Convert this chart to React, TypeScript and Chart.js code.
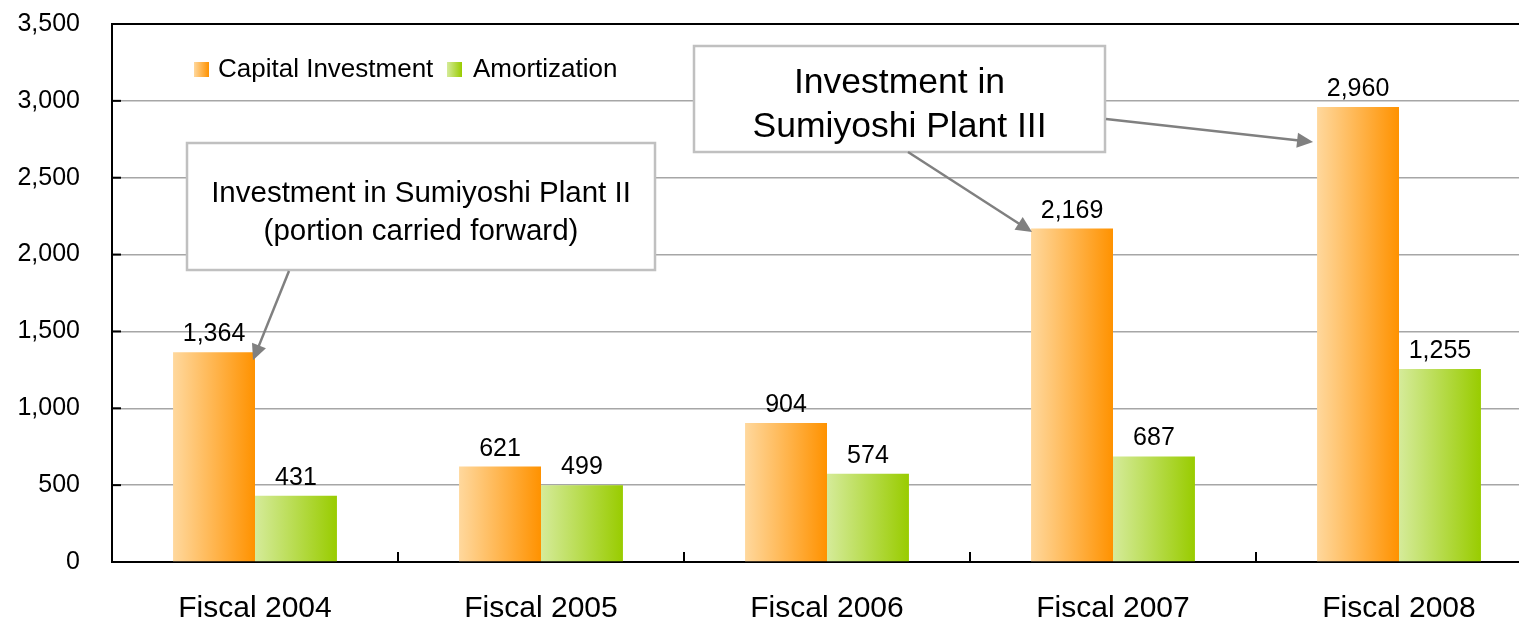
import React, { useEffect, useRef } from 'react';
import { Chart, registerables } from 'chart.js';

Chart.register(...registerables);

// ---- data ----
const categories = ['Fiscal 2004', 'Fiscal 2005', 'Fiscal 2006', 'Fiscal 2007', 'Fiscal 2008'];
const capitalInvestment = [1364, 621, 904, 2169, 2960];
const amortization = [431, 499, 574, 687, 1255];
const seriesNames = ['Capital Investment', 'Amortization'];
const yMin = 0;
const yMax = 3500;
const yStep = 500;
const noteLeft = ['Investment in Sumiyoshi Plant II', '(portion carried forward)'];
const noteRight = ['Investment in', 'Sumiyoshi Plant III'];

// ---- styles ----
const FONT = '"Liberation Sans", Arial, sans-serif';
const ORANGE = ['#FFD89D', '#FF9200'];
const GREEN = ['#D5EB9A', '#99CC00'];
const GRADS = [ORANGE, GREEN];

const fmt = (v: number) => v.toLocaleString('en-US');

const gradientPlugin = {
  id: 'barGradients',
  beforeDatasetsDraw(chart: any) {
    const ctx = chart.ctx;
    chart.data.datasets.forEach((_: any, di: number) => {
      const meta = chart.getDatasetMeta(di);
      meta.data.forEach((el: any) => {
        const { x, width } = el.getProps(['x', 'width'], true);
        const g = ctx.createLinearGradient(x - width / 2, 0, x + width / 2, 0);
        g.addColorStop(0, GRADS[di][0]);
        g.addColorStop(1, GRADS[di][1]);
        el.options.backgroundColor = g;
      });
    });
  },
};

function arrow(ctx: CanvasRenderingContext2D, x1: number, y1: number, x2: number, y2: number) {
  const dx = x2 - x1;
  const dy = y2 - y1;
  const len = Math.hypot(dx, dy);
  const ux = dx / len;
  const uy = dy / len;
  const hl = 16;
  const hw = 7.5;
  const bx = x2 - ux * hl;
  const by = y2 - uy * hl;
  ctx.save();
  ctx.strokeStyle = '#808080';
  ctx.fillStyle = '#808080';
  ctx.lineWidth = 2.5;
  ctx.beginPath();
  ctx.moveTo(x1, y1);
  ctx.lineTo(bx + ux * 2, by + uy * 2);
  ctx.stroke();
  ctx.beginPath();
  ctx.moveTo(x2, y2);
  ctx.lineTo(bx - uy * hw, by + ux * hw);
  ctx.lineTo(bx + uy * hw, by - ux * hw);
  ctx.closePath();
  ctx.fill();
  ctx.restore();
}

function noteBox(
  ctx: CanvasRenderingContext2D,
  x: number,
  y: number,
  w: number,
  h: number,
  lines: string[],
  size: number,
  baselines: number[]
) {
  ctx.save();
  ctx.fillStyle = '#ffffff';
  ctx.fillRect(x, y, w, h);
  ctx.strokeStyle = '#c0c0c0';
  ctx.lineWidth = 2.5;
  ctx.strokeRect(x, y, w, h);
  ctx.fillStyle = '#000';
  ctx.font = `${size}px ${FONT}`;
  ctx.textAlign = 'center';
  ctx.textBaseline = 'alphabetic';
  lines.forEach((t, i) => ctx.fillText(t, x + w / 2, baselines[i]));
  ctx.restore();
}

const overlayPlugin = {
  id: 'overlay',
  afterDatasetsDraw(chart: any) {
    const ctx: CanvasRenderingContext2D = chart.ctx;
    const { left, right, top, bottom } = chart.chartArea;
    const ys = chart.scales.y;

    ctx.save();
    // top border
    ctx.strokeStyle = '#000';
    ctx.lineWidth = 2;
    ctx.beginPath();
    ctx.moveTo(left - 1, top);
    ctx.lineTo(right, top);
    ctx.stroke();
    // inward y ticks
    for (let v = yMin; v <= yMax; v += yStep) {
      const py = ys.getPixelForValue(v);
      ctx.beginPath();
      ctx.moveTo(left, py);
      ctx.lineTo(left + 9, py);
      ctx.stroke();
    }
    // inward x ticks at category boundaries
    const cw = (right - left) / categories.length;
    for (let i = 1; i < categories.length; i++) {
      const px = left + i * cw;
      ctx.beginPath();
      ctx.moveTo(px, bottom);
      ctx.lineTo(px, bottom - 10);
      ctx.stroke();
    }

    // data labels
    ctx.fillStyle = '#000';
    ctx.font = `25px ${FONT}`;
    ctx.textAlign = 'center';
    ctx.textBaseline = 'alphabetic';
    chart.data.datasets.forEach((ds: any, di: number) => {
      const meta = chart.getDatasetMeta(di);
      meta.data.forEach((el: any, i: number) => {
        const { x, y } = el.getProps(['x', 'y'], true);
        ctx.fillText(fmt(ds.data[i]), x, y - 11);
      });
    });

    // legend
    const legendItems = [
      { sq: 194, tx: 218 },
      { sq: 447, tx: 473 },
    ];
    ctx.font = `26px ${FONT}`;
    ctx.textAlign = 'left';
    legendItems.forEach((it, i) => {
      const g = ctx.createLinearGradient(it.sq, 0, it.sq + 15, 0);
      g.addColorStop(0, GRADS[i][0]);
      g.addColorStop(1, GRADS[i][1]);
      ctx.fillStyle = g;
      ctx.fillRect(it.sq, 62, 15, 15);
      ctx.fillStyle = '#000';
      ctx.fillText(seriesNames[i], it.tx, 77);
    });

    // annotation boxes
    noteBox(ctx, 187, 143, 468, 127, noteLeft, 29.5, [202, 240]);
    noteBox(ctx, 694, 46, 411, 106, noteRight, 35.5, [93, 137]);

    // arrows anchored to bars
    const m0 = chart.getDatasetMeta(0).data;
    const b0 = m0[0].getProps(['x', 'y', 'width'], true);
    const b3 = m0[3].getProps(['x', 'y', 'width'], true);
    const b4 = m0[4].getProps(['x', 'y', 'width'], true);
    arrow(ctx, 289, 271, b0.x + b0.width / 2 - 2, b0.y + 8);
    arrow(ctx, 908, 152, b3.x - b3.width / 2 + 1, b3.y + 3.5);
    arrow(ctx, 1106, 119, b4.x - b4.width / 2 - 4, b4.y + 35);

    ctx.restore();
  },
};

export default function App() {
  const ref = useRef<HTMLCanvasElement>(null);

  useEffect(() => {
    const canvas = ref.current;
    if (!canvas) return;
    const chart = new Chart(canvas, {
      type: 'bar',
      data: {
        labels: categories,
        datasets: [
          {
            label: seriesNames[0],
            data: capitalInvestment,
            backgroundColor: () => ORANGE[1],
            borderWidth: 0,
            categoryPercentage: 0.573,
            barPercentage: 1,
          },
          {
            label: seriesNames[1],
            data: amortization,
            backgroundColor: () => GREEN[1],
            borderWidth: 0,
            categoryPercentage: 0.573,
            barPercentage: 1,
          },
        ],
      },
      options: {
        responsive: false,
        animation: false,
        devicePixelRatio: 1,
        layout: { padding: { top: 24, right: 0, bottom: 0, left: 0 } },
        plugins: {
          legend: { display: false },
          tooltip: { enabled: false },
        },
        scales: {
          x: {
            z: 1,
            grid: { display: false, drawTicks: false },
            border: { display: true, color: '#000', width: 2 },
            ticks: { color: '#000', font: { family: FONT, size: 30 }, padding: 29 },
            afterFit: (s: any) => {
              s.height = 58;
            },
          },
          y: {
            min: yMin,
            max: yMax,
            grid: {
              drawTicks: false,
              lineWidth: 1.5,
              color: (c: any) =>
                c.tick && (c.tick.value === yMin || c.tick.value === yMax) ? 'rgba(0,0,0,0)' : '#a6a6a6',
            },
            border: { display: true, color: '#000', width: 2 },
            ticks: {
              stepSize: yStep,
              color: '#000',
              font: { family: FONT, size: 25 },
              padding: 32,
              callback: (v: any) => fmt(Number(v)),
            },
            afterFit: (s: any) => {
              s.width = 112;
              s.paddingTop = 0;
              s.paddingBottom = 0;
            },
          },
        },
      },
      plugins: [gradientPlugin, overlayPlugin],
    });
    return () => chart.destroy();
  }, []);

  return (
    <div
      style={{
        position: 'absolute',
        left: 0,
        top: 0,
        width: 1519,
        height: 620,
        overflow: 'hidden',
        background: '#fff',
      }}
    >
      <canvas ref={ref} width={1542} height={620} style={{ display: 'block' }} />
    </div>
  );
}
